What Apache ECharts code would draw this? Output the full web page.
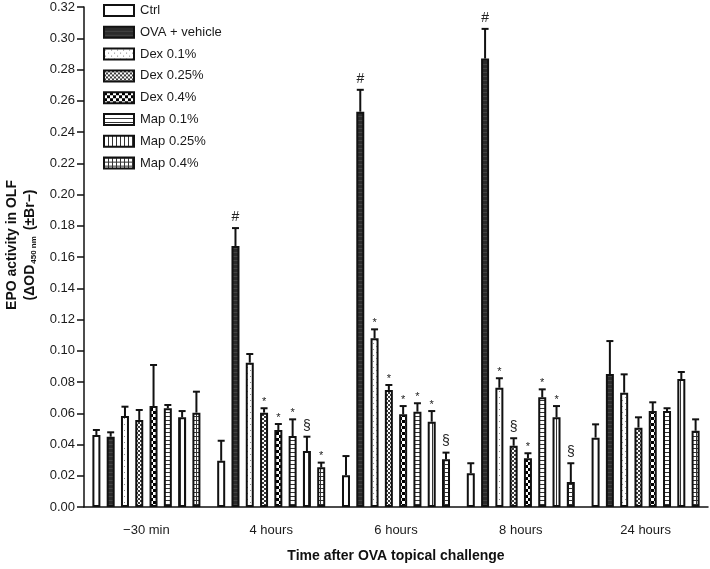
<!DOCTYPE html>
<html>
<head>
<meta charset="utf-8">
<script src="https://cdn.jsdelivr.net/npm/echarts@6/dist/echarts.min.js"></script>
<style>
html,body{margin:0;padding:0;background:#fff;}
#chart{width:710px;height:569px;}
</style>
</head>
<body>
<div id="chart"></div>
<script>
// ---- data ----
const categories = ['\u221230 min', '4 hours', '6 hours', '8 hours', '24 hours'];
const seriesNames = ['Ctrl', 'OVA + vehicle', 'Dex 0.1%', 'Dex 0.25%', 'Dex 0.4%', 'Map 0.1%', 'Map 0.25%', 'Map 0.4%'];

const ctrlMean    = [0.0461, 0.0296, 0.0203, 0.0216, 0.0444];
const ctrlSem     = [0.0032, 0.0128, 0.0123, 0.0064, 0.0085];
const ovaMean     = [0.0450, 0.1670, 0.2530, 0.2870, 0.0851];
const ovaSem      = [0.0028, 0.0115, 0.0140, 0.0190, 0.0211];
const dex01Mean   = [0.0582, 0.0924, 0.1080, 0.0763, 0.0732];
const dex01Sem    = [0.0060, 0.0055, 0.0057, 0.0061, 0.0117];
const dex025Mean  = [0.0557, 0.0604, 0.0749, 0.0392, 0.0508];
const dex025Sem   = [0.0064, 0.0028, 0.0032, 0.0048, 0.0066];
const dex04Mean   = [0.0646, 0.0493, 0.0593, 0.0312, 0.0614];
const dex04Sem    = [0.0263, 0.0038, 0.0053, 0.0032, 0.0056];
const map01Mean   = [0.0632, 0.0454, 0.0610, 0.0702, 0.0614];
const map01Sem    = [0.0021, 0.0107, 0.0054, 0.0051, 0.0018];
const map025Mean  = [0.0574, 0.0358, 0.0546, 0.0574, 0.0819];
const map025Sem   = [0.0040, 0.0092, 0.0068, 0.0072, 0.0045];
const map04Mean   = [0.0604, 0.0254, 0.0305, 0.0160, 0.0488];
const map04Sem    = [0.0134, 0.0030, 0.0043, 0.0120, 0.0073];

const ctrlMarks   = ['', '', '', '', ''];
const ovaMarks    = ['', '#', '#', '#', ''];
const dex01Marks  = ['', '', '*', '*', ''];
const dex025Marks = ['', '*', '*', '\u00a7', ''];
const dex04Marks  = ['', '*', '*', '*', ''];
const map01Marks  = ['', '*', '*', '*', ''];
const map025Marks = ['', '\u00a7', '*', '*', ''];
const map04Marks  = ['', '*', '\u00a7', '\u00a7', ''];

const yTicks = { min: 0, max: 0.32, interval: 0.02 };
const yTitle = '{a|EPO activity in OLF}\n{a|(\u0394OD}{s|450 nm}{a| (\u00b1Br\u2212)}';
const xTitle = 'Time after OVA topical challenge';

const means = [ctrlMean, ovaMean, dex01Mean, dex025Mean, dex04Mean, map01Mean, map025Mean, map04Mean];
const sems  = [ctrlSem, ovaSem, dex01Sem, dex025Sem, dex04Sem, map01Sem, map025Sem, map04Sem];
const marks = [ctrlMarks, ovaMarks, dex01Marks, dex025Marks, dex04Marks, map01Marks, map025Marks, map04Marks];

// ---- patterns ----
function makePattern(w, h, draw) {
  const c = document.createElement('canvas');
  c.width = w; c.height = h;
  const g = c.getContext('2d');
  g.fillStyle = '#ffffff';
  g.fillRect(0, 0, w, h);
  draw(g);
  return { image: c, repeat: 'repeat' };
}
const patterns = [
  '#ffffff',
  makePattern(4, 4, g => { g.fillStyle = '#2b2b2b'; g.fillRect(0,0,4,4); g.fillStyle = '#444'; g.fillRect(0,0,4,1); }),
  makePattern(6, 6, g => { g.fillStyle = '#8a8a8a'; g.fillRect(1,1,1,1); g.fillRect(4,4,1,1); }),
  makePattern(4, 4, g => { g.fillStyle = '#3a3a3a'; g.fillRect(0,0,2,2); g.fillRect(2,2,2,2); }),
  makePattern(6, 6, g => { g.fillStyle = '#000'; g.fillRect(0,0,3,3); g.fillRect(3,3,3,3); }),
  makePattern(4, 4, g => { g.fillStyle = '#333'; g.fillRect(0,0,4,1); }),
  makePattern(4, 4, g => { g.fillStyle = '#333'; g.fillRect(0,0,1,4); }),
  makePattern(4, 4, g => { g.fillStyle = '#333'; g.fillRect(0,0,4,1); g.fillRect(0,0,1,4); })
];

const FONT = 'Liberation Sans, Arial, Helvetica, sans-serif';
const BAR_W = 8;
const STEP = 14.29;

const barSeries = seriesNames.map((name, i) => ({
  name: name,
  type: 'bar',
  barWidth: BAR_W,
  barGap: '78.6%',
  data: means[i],
  itemStyle: { color: patterns[i], borderColor: '#111', borderWidth: 2 },
  emphasis: { disabled: true },
  z: 2
}));

const errSeries = seriesNames.map((name, i) => ({
  name: 'err ' + name,
  type: 'custom',
  z: 3,
  silent: true,
  data: categories.map((c, j) => [j, means[i][j], means[i][j] + sems[i][j], j]),
  encode: { x: 0, y: [1, 2] },
  renderItem: function (params, api) {
    const j = api.value(0);
    const off = (i - 3.5) * STEP;
    const p0 = api.coord([j, api.value(1)]);
    const p1 = api.coord([j, api.value(2)]);
    const x = p0[0] + off;
    const children = [
      { type: 'line', shape: { x1: x, y1: p0[1], x2: x, y2: p1[1] }, style: { stroke: '#111', lineWidth: 2 } },
      { type: 'line', shape: { x1: x - 3.5, y1: p1[1], x2: x + 3.5, y2: p1[1] }, style: { stroke: '#111', lineWidth: 2 } }
    ];
    const m = marks[i][api.value(3)];
    if (m) {
      const isStar = m === '*';
      children.push({
        type: 'text',
        style: {
          text: m, x: x, y: p1[1] - (isStar ? 1 : 4),
          align: 'center', verticalAlign: 'bottom',
          fontSize: isStar ? 11 : 14, fontFamily: FONT, fill: '#222'
        }
      });
    }
    return { type: 'group', children: children };
  }
}));

const chart = echarts.init(document.getElementById('chart'), null, { renderer: 'canvas' });
chart.setOption({
  animation: false,
  backgroundColor: '#ffffff',
  textStyle: { fontFamily: FONT },
  grid: { left: 84, right: 2, top: 7, bottom: 62, containLabel: false, outerBoundsMode: 'none' },
  legend: {
    data: seriesNames,
    orient: 'vertical',
    left: 103,
    top: 4,
    padding: 0,
    itemWidth: 30,
    itemHeight: 11,
    itemGap: 8.8,
    icon: 'rect',
    selectedMode: false,
    textStyle: { fontSize: 13, color: '#1a1a1a', fontFamily: FONT, padding: [0, 0, 0, 1] }
  },
  graphic: [{
    type: 'text',
    x: 21,
    y: 245,
    rotation: Math.PI / 2,
    silent: true,
    style: {
      text: yTitle,
      align: 'center',
      verticalAlign: 'middle',
      rich: {
        a: { fontSize: 14, fontWeight: 'bold', fill: '#111', fontFamily: FONT, lineHeight: 18 },
        s: { fontSize: 8, fontWeight: 'bold', fill: '#111', fontFamily: FONT, lineHeight: 18, padding: [8, 2, 0, 1] }
      }
    }
  }],
  xAxis: {
    type: 'category',
    data: categories,
    axisLine: { lineStyle: { color: '#111', width: 1.5 } },
    axisTick: { alignWithLabel: true, length: 6, lineStyle: { color: '#111', width: 1.5 } },
    axisLabel: { fontSize: 13, color: '#1a1a1a', margin: 17, fontFamily: FONT },
    name: xTitle,
    nameLocation: 'middle',
    nameGap: 42,
    nameTextStyle: { fontSize: 14, fontWeight: 'bold', color: '#111', fontFamily: FONT }
  },
  yAxis: {
    type: 'value',
    min: yTicks.min,
    max: yTicks.max,
    interval: yTicks.interval,
    splitLine: { show: false },
    axisLine: { show: true, lineStyle: { color: '#111', width: 1.5 } },
    axisTick: { show: true, length: 7, lineStyle: { color: '#111', width: 1.5 } },
    axisLabel: { fontSize: 13, color: '#1a1a1a', margin: 9, fontFamily: FONT, formatter: v => v.toFixed(2) }
  },
  series: barSeries.concat(errSeries)
});
</script>
</body>
</html>
